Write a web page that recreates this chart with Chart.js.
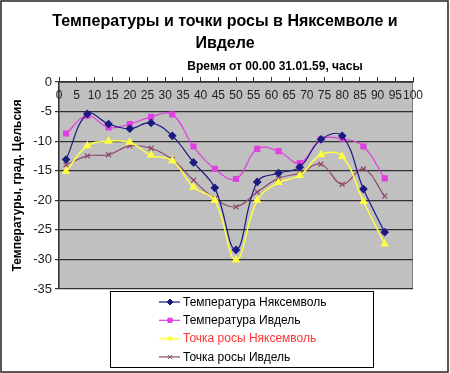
<!DOCTYPE html>
<html>
<head>
<meta charset="utf-8">
<script src="https://cdn.jsdelivr.net/npm/chart.js@4/dist/chart.umd.min.js"></script>
<style>
  body { margin: 0; background: #fff; }
  #wrap { width: 450px; height: 373px; }
</style>
</head>
<body>
<div id="wrap"><canvas id="dewChart" width="450" height="373"></canvas></div>
<script>
const hours = [2, 8, 14, 20, 26, 32, 38, 44, 50, 56, 62, 68, 74, 80, 86, 92];
const tempNyaksimvol = [-13.1, -5.4, -7.1, -7.9, -6.9, -9.1, -13.6, -17.9, -28.4, -16.9, -15.4, -14.4, -9.7, -9.1, -18.1, -25.4];
const tempIvdel = [-8.7, -5.7, -7.7, -7.1, -5.9, -5.5, -10.9, -14.7, -16.4, -11.3, -11.7, -13.7, -9.7, -9.6, -10.9, -16.3];
const dewNyaksimvol = [-15.1, -10.8, -10.0, -10.2, -12.4, -13.3, -17.8, -20.0, -30.1, -20.0, -17.0, -15.8, -12.3, -12.6, -20.2, -27.4];
const dewIvdel = [-14.0, -12.5, -12.3, -10.8, -11.2, -13.1, -16.6, -19.7, -21.1, -18.6, -16.3, -15.4, -13.9, -17.3, -14.7, -19.3];

const seriesNames = ['Температура Няксемволь', 'Температура Ивдель', 'Точка росы Няксемволь', 'Точка росы Ивдель'];
const legendTextColors = ['#000', '#000', '#ff3333', '#000'];

const FONT = '"Liberation Sans", Arial, sans-serif';

function toPoints(values) {
    return values.map((v, i) => ({ x: hours[i], y: v }));
}

// gray plot area behind the lines
const plotBackground = {
    id: 'plotBackground',
    beforeDraw(chart) {
        const { ctx, chartArea: a } = chart;
        ctx.save();
        ctx.fillStyle = '#c0c0c0';
        ctx.fillRect(a.left, a.top, a.right - a.left, a.bottom - a.top);
        ctx.strokeStyle = '#808080';
        ctx.lineWidth = 1;
        ctx.strokeRect(a.left + 0.5, a.top + 0.5, a.right - a.left - 1, a.bottom - a.top - 1);
        ctx.restore();
    },
};

// x axis caption, legend box and outer frame
const extras = {
    id: 'extras',
    afterDraw(chart) {
        const ctx = chart.ctx;
        ctx.save();

        ctx.fillStyle = '#000';
        ctx.font = 'bold 12px ' + FONT;
        ctx.textAlign = 'center';
        ctx.textBaseline = 'middle';
        ctx.fillText('Время от 00.00 31.01.59, часы', 275, 67);

        ctx.fillStyle = '#fff';
        ctx.fillRect(110, 291, 263, 76);
        ctx.strokeStyle = '#000';
        ctx.lineWidth = 1;
        ctx.strokeRect(110.5, 291.5, 263, 76);

        chart.data.datasets.forEach((ds, i) => {
            const y = 302 + i * 18.3;
            ctx.strokeStyle = ds.borderColor;
            ctx.lineWidth = ds.borderWidth;
            ctx.beginPath();
            ctx.moveTo(159, y);
            ctx.lineTo(180, y);
            ctx.stroke();
            ctx.fillStyle = ds.pointBackgroundColor;
            ctx.strokeStyle = ds.pointBorderColor;
            ctx.lineWidth = 1;
            Chart.helpers.drawPoint(ctx, {
                pointStyle: ds.pointStyle,
                radius: ds.pointRadius - 0.5,
                rotation: 0,
                borderWidth: 1,
            }, 170, y);
            ctx.fillStyle = legendTextColors[i];
            ctx.font = '12px ' + FONT;
            ctx.textAlign = 'left';
            ctx.fillText(ds.label, 183, y + 0.5);
        });

        ctx.strokeStyle = '#222';
        ctx.lineWidth = 1.5;
        ctx.strokeRect(1, 1, 447, 371);
        ctx.restore();
    },
};

const ctx = document.getElementById('dewChart').getContext('2d');
const dewChart = new Chart(ctx, {
    type: 'line',
    data: {
        datasets: [
            {
                label: seriesNames[0],
                data: toPoints(tempNyaksimvol),
                borderColor: '#1a1a80',
                borderWidth: 1.2,
                pointStyle: 'rectRot',
                pointRadius: 3.5,
                pointBackgroundColor: '#1a1a80',
                pointBorderColor: '#1a1a80',
                tension: 0.4,
            },
            {
                label: seriesNames[1],
                data: toPoints(tempIvdel),
                borderColor: '#e040e0',
                borderWidth: 1.2,
                pointStyle: 'rect',
                pointRadius: 3.5,
                pointBackgroundColor: '#e040e0',
                pointBorderColor: '#e040e0',
                tension: 0.4,
            },
            {
                label: seriesNames[2],
                data: toPoints(dewNyaksimvol),
                borderColor: '#ffff40',
                borderWidth: 1.5,
                pointStyle: 'triangle',
                pointRadius: 3.5,
                pointBackgroundColor: '#ffff40',
                pointBorderColor: '#ffff40',
                tension: 0.4,
            },
            {
                label: seriesNames[3],
                data: toPoints(dewIvdel),
                borderColor: '#8c4a6a',
                borderWidth: 1.2,
                pointStyle: 'crossRot',
                pointRadius: 3.5,
                pointBackgroundColor: '#8c4a6a',
                pointBorderColor: '#8c4a6a',
                tension: 0.4,
            },
        ],
    },
    options: {
        responsive: false,
        animation: false,
        layout: {
            padding: { left: 0, right: 0, top: 0, bottom: 84 },
        },
        plugins: {
            legend: { display: false },
            tooltip: { enabled: false },
            title: {
                display: true,
                text: ['Температуры и точки росы в Няксемволе и', 'Ивделе'],
                color: '#000',
                font: { family: FONT, size: 16, weight: 'bold', lineHeight: 1.35 },
                padding: { top: 11, bottom: 22.8 },
            },
        },
        scales: {
            x: {
                type: 'linear',
                position: 'top',
                min: 0,
                max: 100,
                afterFit(scale) { scale.height = 5; },
                ticks: {
                    stepSize: 5,
                    mirror: true,
                    padding: 6,
                    color: '#222',
                    font: { family: FONT, size: 12 },
                    maxRotation: 0,
                    autoSkip: false,
                },
                grid: {
                    drawOnChartArea: false,
                    drawTicks: true,
                    tickLength: 5,
                    color: '#333',
                },
                border: { color: '#333', width: 1.5 },
            },
            y: {
                min: -35,
                max: 0,
                afterFit(scale) { scale.width = 59; },
                ticks: {
                    stepSize: 5,
                    padding: 3,
                    color: '#222',
                    font: { family: FONT, size: 13 },
                },
                grid: {
                    color: '#303030',
                    lineWidth: 1.2,
                    tickLength: 4,
                },
                border: { color: '#333', width: 1.2 },
                title: {
                    display: true,
                    text: 'Температуры, град. Цельсия',
                    color: '#000',
                    font: { family: FONT, size: 12, weight: 'bold' },
                    padding: { top: 10, bottom: 0 },
                },
            },
            // empty right-hand axis, only keeps space on the right
            yRight: {
                position: 'right',
                min: -35,
                max: 0,
                afterFit(scale) { scale.width = 37; },
                ticks: { display: false },
                grid: { display: false },
                border: { display: false },
            },
        },
    },
    plugins: [plotBackground, extras],
});
</script>
</body>
</html>
